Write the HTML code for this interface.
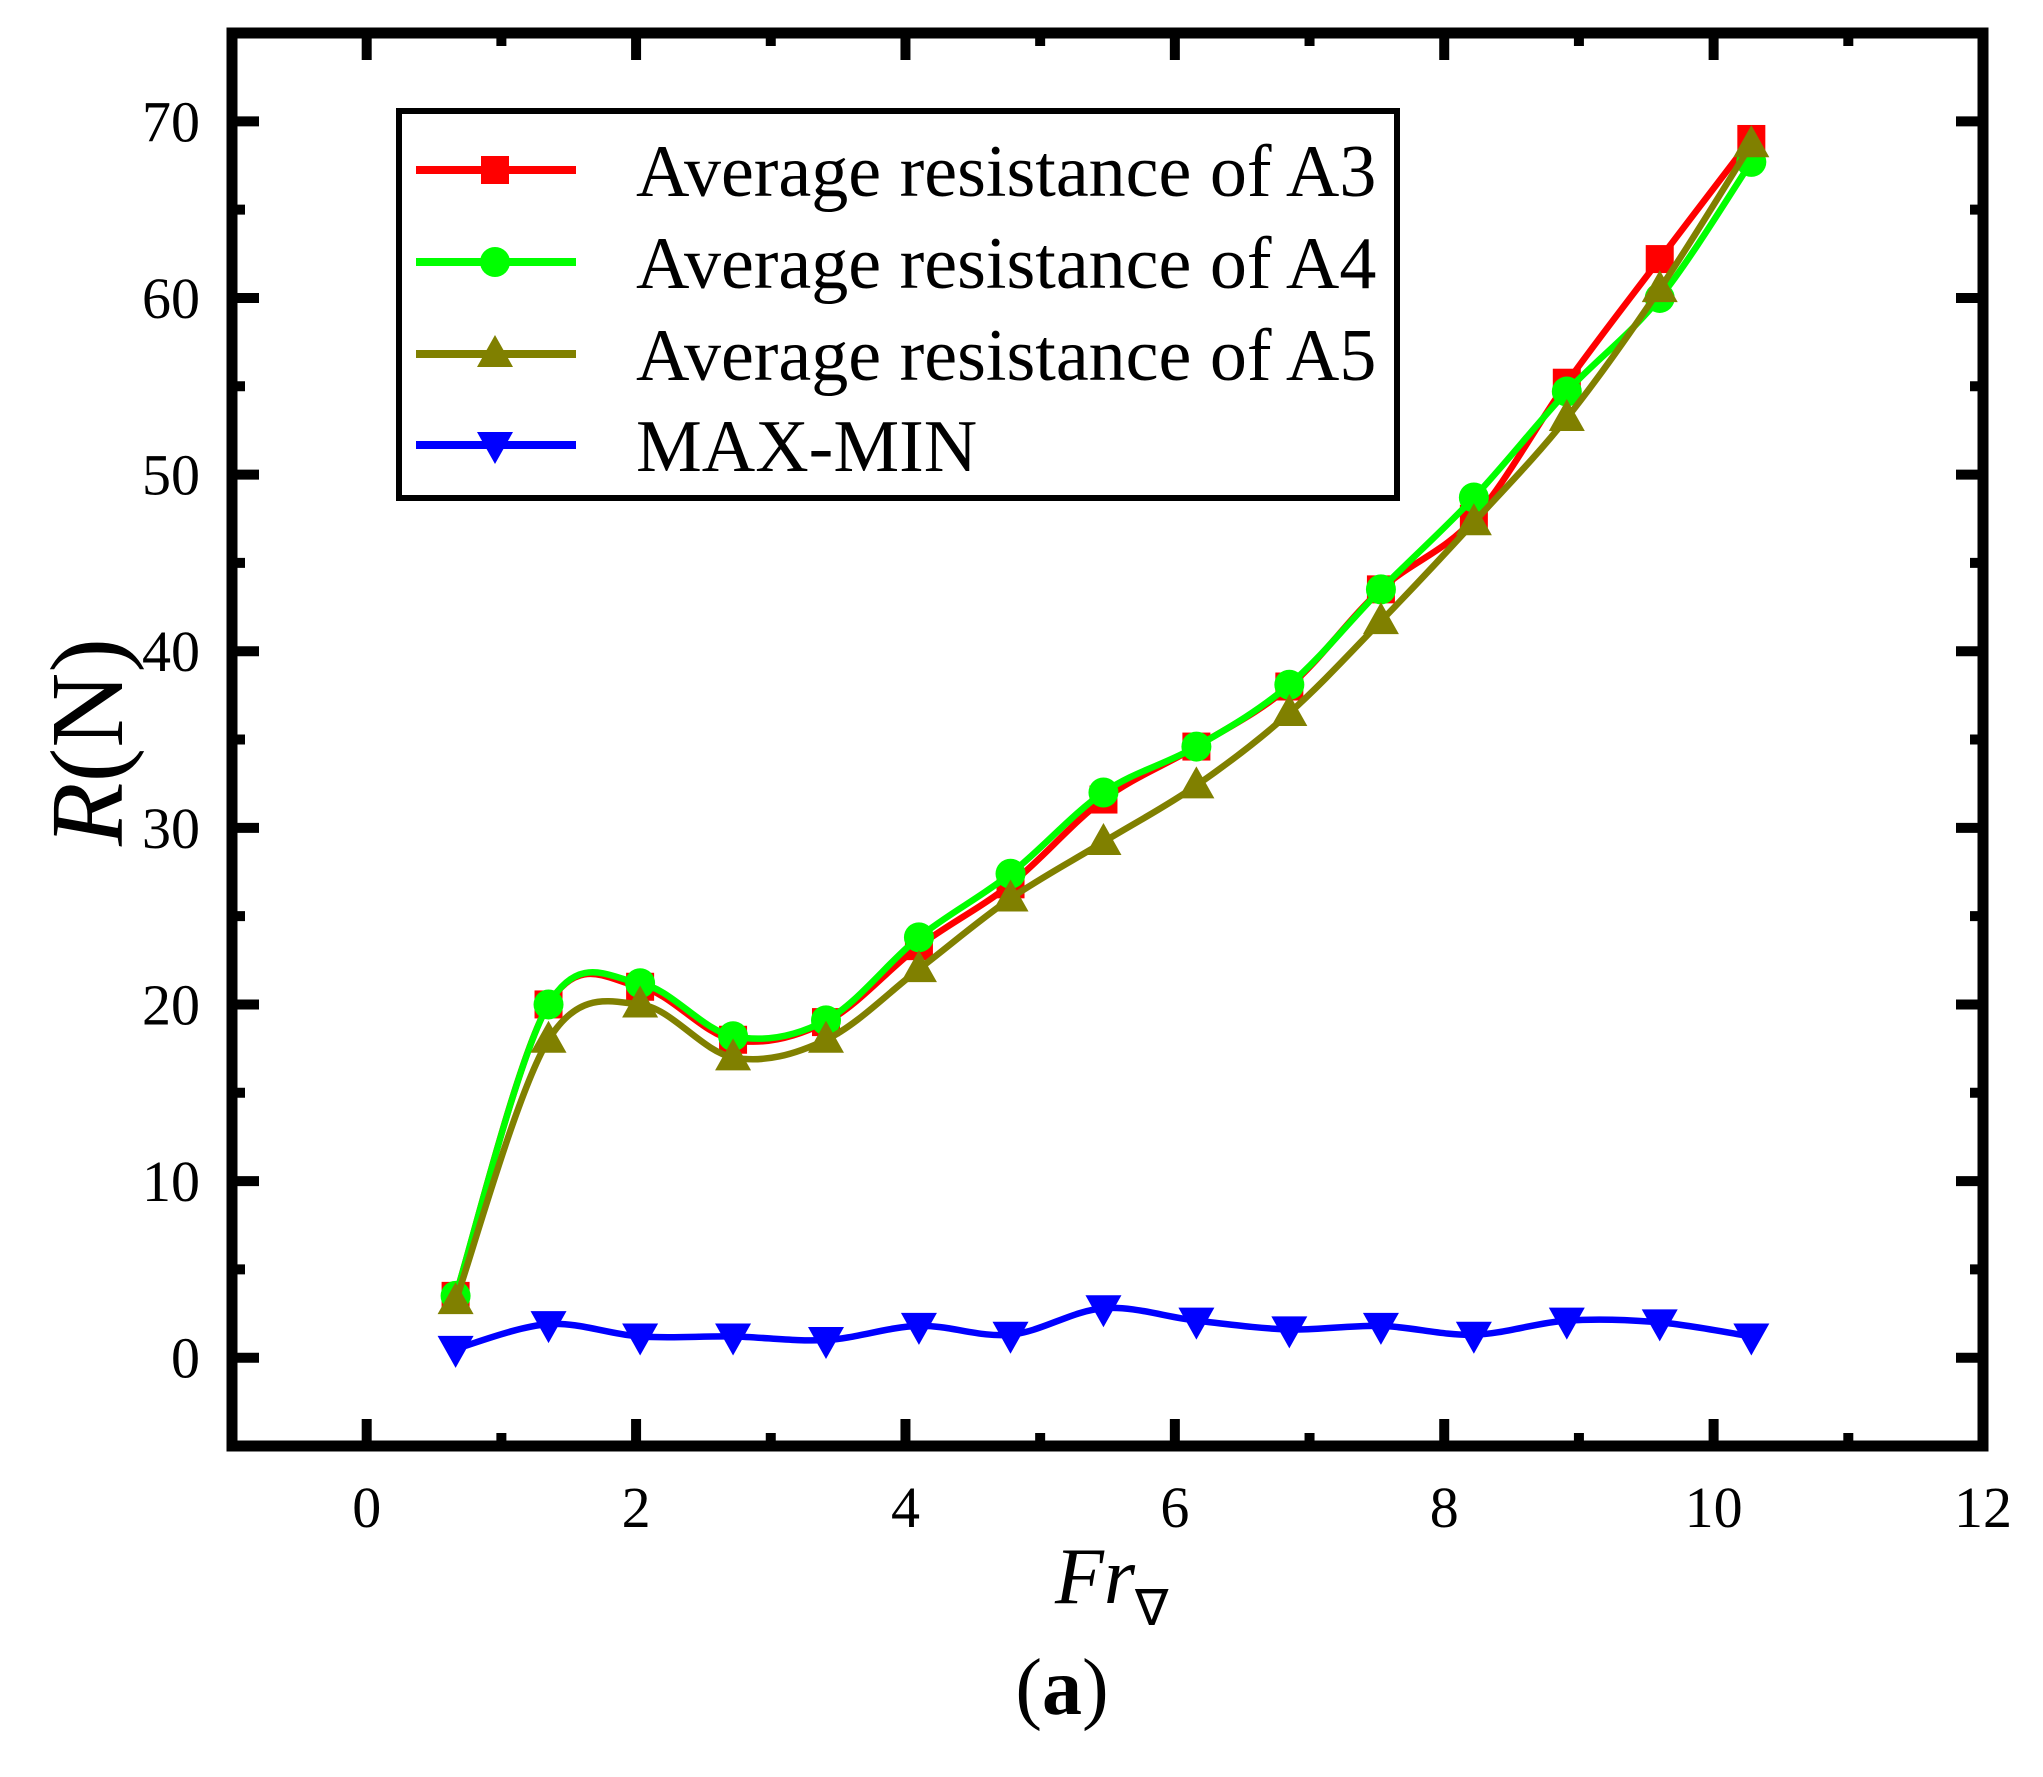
<!DOCTYPE html>
<html><head><meta charset="utf-8"><style>
html,body{margin:0;padding:0;background:#fff;}
svg{display:block;font-family:"Liberation Serif",serif;}
</style></head><body>
<svg id="chart" width="2043" height="1777" viewBox="0 0 2043 1777" xmlns="http://www.w3.org/2000/svg">
<g id="marks"></g>
<rect x="232" y="33" width="1751" height="1413" fill="none" stroke="#000" stroke-width="11"/>
<g id="ticks"></g>
<text transform="translate(122,742) rotate(-90)" text-anchor="middle" font-size="104"><tspan font-style="italic">R</tspan>(N)</text>
<text x="1055" y="1603" font-size="80" font-style="italic">Fr<tspan font-style="normal" font-size="50" dy="22">∇</tspan></text>
<text x="1062" y="1714" text-anchor="middle" font-size="80">(<tspan font-weight="bold">a</tspan>)</text>
<g>
<rect x="399" y="111" width="998" height="387" fill="#fff" stroke="#000" stroke-width="6"/>
<g id="legend-items"></g>
</g>
</svg>
<script>
const xValues=[0.66,1.35,2.03,2.72,3.41,4.1,4.78,5.47,6.16,6.85,7.53,8.22,8.91,9.6,10.28];
const seriesA3=[3.5,20,21,18,19,23.3,26.8,31.6,34.6,38,43.5,47.5,55.2,62.2,69];
const seriesA4=[3.5,20,21.2,18.2,19.1,23.8,27.4,32,34.6,38.1,43.5,48.7,54.7,60,67.7];
const seriesA5=[3.2,18,20,17,18,22,26,29.2,32.4,36.5,41.7,47.3,53.2,60.5,68.7];
const seriesMaxMin=[0.5,1.9,1.2,1.2,1.0,1.8,1.3,2.8,2.1,1.6,1.8,1.3,2.1,2.0,1.2];
const xTicks=[0,2,4,6,8,10,12];
const yTicks=[0,10,20,30,40,50,60,70];
const legendLabels=["Average resistance of A3","Average resistance of A4","Average resistance of A5","MAX-MIN"];

const NS="http://www.w3.org/2000/svg";
const L=232,R=1983,T=33,B=1446,XMIN=-1,XMAX=12,YMIN=-5,YMAX=75;
const sx=v=>L+(v-XMIN)/(XMAX-XMIN)*(R-L);
const sy=v=>B-(v-YMIN)/(YMAX-YMIN)*(B-T);
function mk(tag,attrs,parent){const e=document.createElementNS(NS,tag);for(const k in attrs)e.setAttribute(k,attrs[k]);parent.appendChild(e);return e;}
const marks=document.getElementById('marks'),ticks=document.getElementById('ticks'),leg=document.getElementById('legend-items');

function smooth(pts){let d=`M${pts[0][0]},${pts[0][1]}`;for(let i=0;i<pts.length-1;i++){const p0=pts[Math.max(i-1,0)],p1=pts[i],p2=pts[i+1],p3=pts[Math.min(i+2,pts.length-1)];const c1=[p1[0]+(p2[0]-p0[0])/6,p1[1]+(p2[1]-p0[1])/6],c2=[p2[0]-(p3[0]-p1[0])/6,p2[1]-(p3[1]-p1[1])/6];d+=` C${c1[0]},${c1[1]} ${c2[0]},${c2[1]} ${p2[0]},${p2[1]}`;}return d;}
function marker(type,x,y,color,parent,name){let e;
 if(type==='square'){e=mk('rect',{x:x-14,y:y-14,width:28,height:28,fill:color},parent);}
 else if(type==='circle'){e=mk('circle',{cx:x,cy:y,r:15,fill:color},parent);}
 else if(type==='up'){e=mk('polygon',{points:`${x},${y-19} ${x-18},${y+13} ${x+18},${y+13}`,fill:color},parent);}
 else {e=mk('polygon',{points:`${x},${y+19} ${x-18},${y-13} ${x+18},${y-13}`,fill:color},parent);}
 
 }
const series=[[seriesA3,'#ff0000','square','a3'],[seriesA4,'#00ff00','circle','a4'],[seriesA5,'#808000','up','a5'],[seriesMaxMin,'#0000ff','down','max-min']];
series.forEach(([vals,col,m,n])=>{
 const g=mk('g',{},marks);
 
 
 const pts=vals.map((v,i)=>[sx(xValues[i]),sy(v)]);
 const p=mk('path',{d:smooth(pts),fill:'none',stroke:col,'stroke-width':6.5},g);
 
 
 pts.forEach(q=>marker(m,q[0],q[1],col,g,'point-'+n));
});
for(let v=XMIN;v<=XMAX;v++){const major=v%2===0,len=major?27:13,x=sx(v);
 const t1=mk('line',{x1:x,y1:B,x2:x,y2:B-len,stroke:'#000','stroke-width':10},ticks);
 
 
 const t2=mk('line',{x1:x,y1:T,x2:x,y2:T+len,stroke:'#000','stroke-width':10},ticks);
 
 }
for(let v=YMIN;v<=YMAX;v+=5){const major=v%10===0,len=major?27:13,y=sy(v);
 const t1=mk('line',{x1:L,y1:y,x2:L+len,y2:y,stroke:'#000','stroke-width':10},ticks);
 
 
 const t2=mk('line',{x1:R,y1:y,x2:R-len,y2:y,stroke:'#000','stroke-width':10},ticks);
 
 }
xTicks.forEach(v=>{const t=mk('text',{x:sx(v),y:1527,'text-anchor':'middle','font-size':58},ticks);t.textContent=v;
 
 });
yTicks.forEach(v=>{const t=mk('text',{x:200,y:sy(v)+20,'text-anchor':'end','font-size':58},ticks);t.textContent=v;
 
 });
const rowY=[170,262,354,445];
series.forEach(([vals,col,m,n],i)=>{
 const y=rowY[i];
 const g=mk('g',{},leg);
 
 
 mk('line',{x1:416,y1:y,x2:576,y2:y,stroke:col,'stroke-width':8},g);
 marker(m,495,y,col,g,'legend-marker');
 const t=mk('text',{x:636,y:y+26,'font-size':74},g);t.textContent=legendLabels[i];
 
 
});
</script>
</body></html>
